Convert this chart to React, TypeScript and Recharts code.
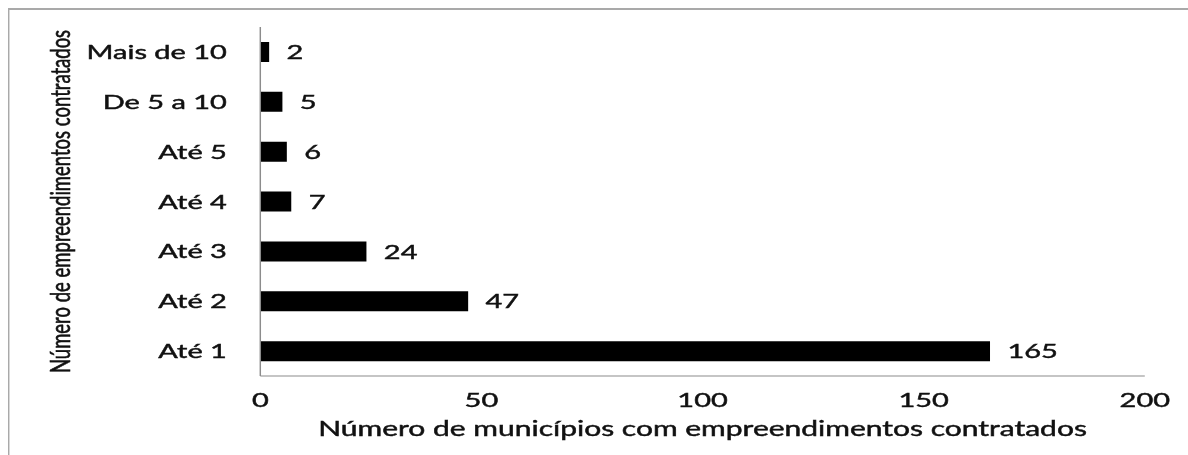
import React from 'react';
import { BarChart, Bar, XAxis, YAxis, LabelList } from 'recharts';

const categories = ['Mais de 10', 'De 5 a 10', 'Até 5', 'Até 4', 'Até 3', 'Até 2', 'Até 1'];
const municipios = [2, 5, 6, 7, 24, 47, 165];
const xTicks = [0, 50, 100, 150, 200];

const data = categories.map((faixa, i) => ({ faixa, municipios: municipios[i] }));

const font = "Lato, 'Open Sans', sans-serif";
const textFill = '#111111';
// the reference glyphs are heavy, a hairline stroke thickens them a bit
const heavy = { stroke: '#111111', strokeWidth: 0.45 };

// the source image is stretched sideways, so the chart is drawn narrow and scaled
const STRETCH = 1.45;

export default function App() {
  return (
    <div style={{ position: 'fixed', left: 0, top: 0, width: 1188, height: 455, overflow: 'hidden' }}>
      <div
        style={{
          position: 'absolute',
          left: 8,
          top: 8,
          transform: `scaleX(${STRETCH})`,
          transformOrigin: 'left top',
          width: 822,
          height: 460,
          borderTop: '2px solid #a9a9a9',
          borderLeft: '1.5px solid #a9a9a9',
          fontFamily: font,
        }}
      >
        <BarChart
          layout="vertical"
          width={820}
          height={445}
          data={data}
          margin={{ top: 17, right: 37, bottom: 34, left: 23 }}
        >
          <XAxis
            type="number"
            domain={[0, 200]}
            ticks={xTicks}
            tickLine={false}
            tickSize={0}
            tickMargin={17}
            height={45}
            axisLine={{ stroke: '#8c8c8c' }}
            tick={{ fill: textFill, fontSize: 20, fontFamily: font, ...heavy }}
            label={{
              value: 'Número de municípios com empreendimentos contratados',
              position: 'bottom',
              offset: 0,
              fill: textFill,
              fontSize: 20.7,
              fontFamily: font,
              ...heavy,
            }}
          />
          <YAxis
            type="category"
            dataKey="faixa"
            width={150}
            tickLine={false}
            tickSize={0}
            tickMargin={23}
            axisLine={{ stroke: '#8c8c8c' }}
            tick={{ fill: textFill, fontSize: 20, fontFamily: font, ...heavy }}
            label={{
              value: 'Número de empreendimentos contratados',
              angle: -90,
              position: 'insideLeft',
              offset: 12,
              fill: textFill,
              fontSize: 18.5,
              fontFamily: font,
              style: { textAnchor: 'middle' },
              ...heavy,
            }}
          />
          <Bar dataKey="municipios" fill="#000000" barSize={20} isAnimationActive={false}>
            <LabelList
              dataKey="municipios"
              position="right"
              offset={12}
              fill={textFill}
              fontSize={20}
              fontFamily={font}
              {...heavy}
            />
          </Bar>
        </BarChart>
      </div>
    </div>
  );
}
